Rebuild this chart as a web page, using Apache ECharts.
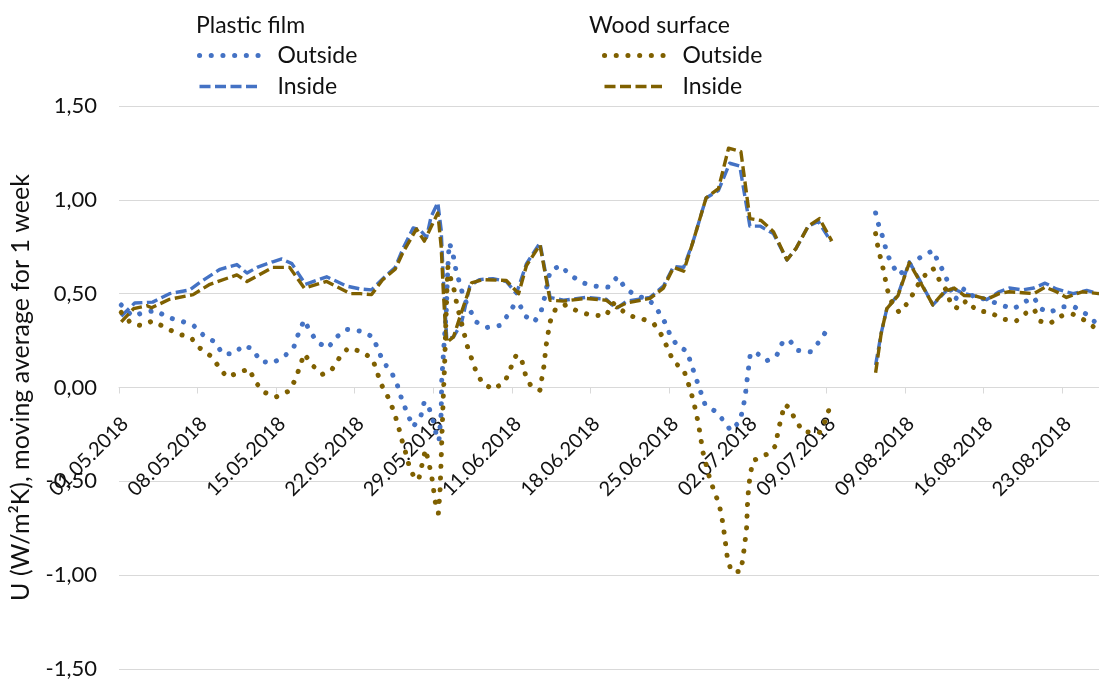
<!DOCTYPE html>
<html>
<head>
<meta charset="utf-8">
<script src="https://cdn.jsdelivr.net/npm/echarts@6/dist/echarts.min.js"></script>
<style>
  html, body { margin: 0; padding: 0; background: #ffffff; }
  #chart { width: 1099px; height: 682px; }
</style>
</head>
<body>
<div id="chart"></div>
<script>
// Measurement-day index (days with data, counted from 01.05.2018) and U value.
// A '-' value marks the period without measurements.
const tickLabels = ['01.05.2018', '08.05.2018', '15.05.2018', '22.05.2018', '29.05.2018',
  '11.06.2018', '18.06.2018', '25.06.2018', '02.07.2018', '09.07.2018',
  '09.08.2018', '16.08.2018', '23.08.2018'];
const daysPerLabel = 7;
const lastDay = 87.3;

const plasticOutside = [
  [0.2,0.44],[1.2,0.38],[2.2,0.40],[3.3,0.41],[4.3,0.374],[5.5,0.355],[6.65,0.33],[7.5,0.28],
  [8.6,0.24],[9.2,0.18],[10.2,0.18],[11.1,0.225],[11.9,0.205],[12.6,0.14],[13.7,0.13],[14.8,0.17],
  [15.6,0.22],[16.0,0.29],[16.5,0.36],[17.0,0.30],[17.7,0.24],[18.6,0.21],[19.4,0.27],[20.3,0.31],
  [21.6,0.30],[22.6,0.27],[23.1,0.20],[23.5,0.14],[24.3,0.078],[24.8,0.012],[25.2,-0.065],[25.7,-0.14],
  [26.2,-0.21],[26.9,-0.15],[27.2,-0.075],[27.6,-0.105],[28.0,-0.18],[28.3,-0.26],[28.5,-0.285],
  [28.7,-0.135],[28.75,0.04],[28.9,0.18],[29.0,0.27],[29.15,0.40],[29.25,0.575],[29.35,0.71],[29.45,0.77],
  [29.8,0.695],[30.0,0.63],[30.7,0.48],[31.8,0.35],[32.8,0.32],[33.9,0.33],[34.7,0.39],[35.3,0.45],
  [35.7,0.44],[36.2,0.38],[37.0,0.35],[37.6,0.405],[37.9,0.477],[38.4,0.62],[39.3,0.65],[40.2,0.60],
  [41.2,0.56],[42.4,0.54],[43.6,0.535],[44.4,0.59],[45.1,0.53],[46.0,0.49],[47.2,0.47],[48.0,0.41],
  [48.6,0.35],[49.1,0.28],[49.7,0.225],[50.6,0.193],[51.0,0.12],[51.4,0.05],[51.8,-0.02],[52.2,-0.09],
  [53.2,-0.13],[53.9,-0.18],[54.5,-0.23],[55.3,-0.18],[55.6,-0.108],[55.8,-0.037],[55.95,0.04],
  [56.1,0.113],[56.25,0.184],[56.8,0.184],[57.7,0.142],[58.6,0.172],[59.1,0.24],[59.7,0.255],
  [60.4,0.198],[61.6,0.19],[62.4,0.246],[63.1,0.31],
  [65.3,'-'],
  [67.4,0.93],[67.7,0.86],[68.1,0.79],[68.4,0.716],[68.9,0.65],[69.5,0.60],[70.4,0.65],[71.3,0.69],
  [72.5,0.73],[73.0,0.667],[73.6,0.60],[74.0,0.53],[74.5,0.47],[75.3,0.527],[76.2,0.48],[77.3,0.47],
  [78.5,0.44],[79.7,0.42],[80.8,0.46],[81.5,0.48],[82.1,0.42],[82.9,0.40],[84.0,0.43],[85.1,0.43],
  [86.2,0.39],[87.1,0.34]
];

const plasticInside = [
  [0.2,0.38],[1.4,0.45],[3.0,0.455],[4.5,0.50],[6.3,0.52],[7.2,0.56],[9.0,0.63],[10.5,0.655],
  [11.4,0.61],[12.3,0.64],[13.7,0.67],[14.5,0.685],[15.4,0.66],[16.6,0.55],[18.5,0.59],[20.3,0.54],
  [21.5,0.525],[22.5,0.52],[23.5,0.58],[24.6,0.64],[25.3,0.74],[26.2,0.85],[26.8,0.84],[27.4,0.80],
  [27.8,0.91],[28.4,0.985],[28.7,0.84],[28.9,0.575],[29.1,0.36],[29.2,0.255],[29.8,0.27],[30.5,0.34],
  [31.25,0.54],[32.1,0.575],[33.3,0.58],[34.5,0.565],[35.4,0.50],[36.3,0.66],[37.5,0.77],[38.4,0.48],
  [39.6,0.465],[41.6,0.48],[43.4,0.47],[44.3,0.42],[45.2,0.46],[47.3,0.48],[48.5,0.54],[49.4,0.645],
  [50.3,0.64],[51.1,0.77],[52.3,1.01],[53.4,1.05],[54.4,1.195],[55.3,1.18],[56.2,0.86],[57.1,0.86],
  [58.3,0.82],[59.5,0.68],[60.3,0.74],[61.4,0.86],[62.3,0.885],[63.4,0.78],
  [65.3,'-'],
  [67.4,0.12],[67.9,0.29],[68.4,0.42],[69.4,0.495],[70.4,0.67],[71.3,0.575],[72.5,0.44],[74.0,0.535],
  [75.3,0.50],[76.4,0.486],[77.3,0.468],[78.4,0.51],[79.3,0.53],[80.5,0.52],[81.5,0.53],[82.5,0.556],
  [83.5,0.525],[85.0,0.50],[86.2,0.517],[87.3,0.50]
];

const woodOutside = [
  [0.2,0.40],[1.1,0.34],[2.0,0.33],[3.0,0.355],[4.1,0.32],[5.2,0.287],[6.4,0.266],[7.2,0.21],
  [8.2,0.167],[8.9,0.11],[9.6,0.055],[10.7,0.08],[11.6,0.10],[12.1,0.034],[12.85,-0.023],[14.0,-0.05],
  [15.1,-0.02],[15.7,0.04],[16.1,0.11],[16.5,0.18],[17.2,0.12],[18.1,0.07],[18.9,0.09],[19.6,0.155],
  [20.4,0.21],[21.7,0.19],[22.6,0.15],[23.0,0.08],[23.4,0.012],[24.0,-0.055],[24.5,-0.13],[24.9,-0.21],
  [25.2,-0.28],[25.6,-0.36],[25.9,-0.43],[26.4,-0.49],[26.7,-0.49],[27.0,-0.41],[27.3,-0.33],
  [27.6,-0.40],[27.9,-0.49],[28.2,-0.62],[28.45,-0.67],[28.6,-0.55],[28.7,-0.38],[28.8,-0.20],
  [28.9,-0.03],[29.0,0.11],[29.1,0.31],[29.2,0.50],[29.3,0.64],[29.5,0.59],[29.9,0.51],[30.1,0.44],
  [30.7,0.30],[31.0,0.225],[31.8,0.087],[32.4,0.02],[33.4,-0.01],[34.4,0.034],[34.9,0.105],[35.4,0.175],
  [35.9,0.14],[36.2,0.07],[36.7,0.007],[37.5,-0.014],[37.7,0.06],[37.9,0.13],[38.0,0.205],[38.2,0.28],
  [38.4,0.35],[38.9,0.42],[39.8,0.44],[40.9,0.405],[42.1,0.385],[43.4,0.383],[44.0,0.45],[45.4,0.383],
  [46.6,0.367],[47.7,0.335],[48.4,0.273],[48.9,0.205],[49.4,0.137],[50.3,0.094],[50.7,0.025],
  [51.05,-0.046],[51.35,-0.117],[51.6,-0.19],[51.8,-0.26],[52.0,-0.34],[52.3,-0.41],[52.6,-0.48],
  [53.0,-0.55],[53.45,-0.62],[53.7,-0.69],[53.9,-0.77],[54.05,-0.84],[54.2,-0.91],[54.55,-0.98],
  [55.4,-0.98],[55.6,-0.90],[55.75,-0.83],[55.9,-0.755],[55.95,-0.68],[56.0,-0.605],[56.1,-0.53],
  [56.25,-0.457],[56.5,-0.39],[57.7,-0.356],[58.5,-0.31],[58.7,-0.236],[59.0,-0.16],[59.3,-0.09],
  [59.75,-0.11],[60.3,-0.18],[61.0,-0.236],[62.4,-0.24],[62.9,-0.18],[63.3,-0.108],
  [65.3,'-'],
  [67.4,0.82],[67.6,0.75],[67.9,0.675],[68.2,0.60],[68.4,0.53],[68.8,0.46],[69.5,0.40],[70.4,0.46],
  [70.9,0.52],[71.6,0.587],[72.5,0.636],[73.1,0.57],[73.8,0.51],[74.1,0.44],[74.8,0.42],[75.5,0.464],
  [76.4,0.41],[77.6,0.40],[78.7,0.365],[79.9,0.353],[80.8,0.397],[81.5,0.418],[82.1,0.353],[82.9,0.34],
  [84.0,0.383],[85.0,0.39],[86.1,0.356],[87.1,0.31]
];

const woodInside = [
  [0.2,0.35],[1.3,0.42],[2.5,0.436],[2.9,0.425],[4.5,0.47],[6.6,0.495],[8.1,0.55],[10.5,0.60],
  [11.4,0.565],[13.7,0.64],[15.2,0.64],[16.5,0.53],[18.5,0.565],[20.6,0.50],[21.5,0.50],[22.5,0.495],
  [23.5,0.575],[24.6,0.63],[25.3,0.72],[26.5,0.845],[27.2,0.78],[28.4,0.93],[28.7,0.75],[28.9,0.50],
  [29.1,0.30],[29.2,0.24],[29.8,0.27],[30.5,0.40],[31.4,0.557],[32.4,0.575],[34.5,0.57],[35.6,0.50],
  [36.3,0.65],[37.5,0.76],[38.4,0.465],[39.6,0.46],[41.6,0.475],[43.4,0.465],[44.3,0.425],[45.2,0.45],
  [47.3,0.475],[48.5,0.53],[49.4,0.64],[50.3,0.62],[51.1,0.77],[52.3,1.01],[53.4,1.06],[54.3,1.275],
  [55.4,1.257],[56.2,0.90],[57.2,0.89],[58.3,0.83],[59.5,0.68],[60.3,0.74],[61.4,0.86],[62.4,0.90],
  [63.5,0.78],
  [65.3,'-'],
  [67.4,0.078],[67.9,0.29],[68.4,0.42],[69.4,0.49],[70.4,0.665],[71.3,0.57],[72.5,0.44],[73.5,0.51],
  [74.4,0.53],[75.3,0.49],[76.4,0.486],[77.3,0.47],[78.4,0.50],[79.3,0.51],[80.5,0.505],[81.5,0.50],
  [82.5,0.535],[83.5,0.51],[84.4,0.48],[85.8,0.51],[87.3,0.50]
];

const BLUE = '#4472C4';
const BROWN = '#7F6000';
const FONT = 'Lato, "Noto Sans", sans-serif';
const TEXT = '#111111';
const GRID_LINE = '#d9d9d9';

const yMin = -1.5;
const yMax = 1.5;
const tickValues = tickLabels.map((_, i) => i * daysPerLabel);

const dotted = color => ({ color: color, width: 5, type: [0.1, 11.6], cap: 'round', join: 'round', opacity: 1 });
const dashed = color => ({ color: color, width: 3.4, type: [11, 4.5], cap: 'butt', join: 'round', opacity: 1 });

const makeSeries = (name, data, color, style) => ({
  name: name,
  type: 'line',
  data: data,
  symbol: 'none',
  showSymbol: false,
  connectNulls: false,
  color: color,
  lineStyle: style(color),
  emphasis: { disabled: true },
  silent: true
});

const legendItem = (name, color, style) => ({ name: name, lineStyle: style(color), itemStyle: { opacity: 0 } });

const legendBase = {
  orient: 'vertical',
  top: 44,
  padding: 0,
  itemWidth: 61,
  itemHeight: 14,
  itemGap: 8,
  selectedMode: false,
  itemStyle: { opacity: 0 },
  textStyle: { fontFamily: FONT, fontSize: 23, color: TEXT, lineHeight: 22, padding: [0, 0, 0, 12] },
  formatter: name => name.split('|')[1]
};

// Plot area; the second grid ends on the zero line and carries the date labels there
// (nudged a few pixels right so each rotated label ends just past its tick).
const plotLeft = 119, plotRight = 0, plotTop = 106, plotBottom = 13;
const plotHeight = 682 - plotTop - plotBottom;
const zeroFromBottom = plotBottom + plotHeight * (0 - yMin) / (yMax - yMin);
const labelNudge = 6;

const chart = echarts.init(document.getElementById('chart'), null, { renderer: 'canvas' });
chart.setOption({
  animation: false,
  backgroundColor: '#ffffff',
  textStyle: { fontFamily: FONT },
  grid: [
    { left: plotLeft, right: plotRight, top: plotTop, bottom: plotBottom, containLabel: false, outerBoundsMode: 'none' },
    { left: plotLeft + labelNudge, right: plotRight - labelNudge, top: plotTop, bottom: zeroFromBottom,
      containLabel: false, outerBoundsMode: 'none' }
  ],
  legend: [
    Object.assign({}, legendBase, { left: 197, data: [
      legendItem('Plastic film|Outside', BLUE, dotted),
      legendItem('Plastic film|Inside', BLUE, dashed)
    ] }),
    Object.assign({}, legendBase, { left: 602, data: [
      legendItem('Wood surface|Outside', BROWN, dotted),
      legendItem('Wood surface|Inside', BROWN, dashed)
    ] })
  ],
  graphic: [
    { type: 'text', left: 196, top: 14, style: { text: 'Plastic film', font: '23px ' + FONT, fill: TEXT } },
    { type: 'text', left: 589, top: 14, style: { text: 'Wood surface', font: '23px ' + FONT, fill: TEXT } }
  ],
  xAxis: [
    {
      gridIndex: 0,
      type: 'value',
      min: 0,
      max: lastDay,
      interval: daysPerLabel,
      axisLine: { show: true, onZero: true, onZeroAxisIndex: 0, lineStyle: { color: GRID_LINE, width: 1 } },
      axisTick: { show: true, length: 6, customValues: tickValues, lineStyle: { color: GRID_LINE } },
      axisLabel: { show: false },
      splitLine: { show: false }
    },
    {
      gridIndex: 1,
      type: 'value',
      min: 0,
      max: lastDay,
      interval: daysPerLabel,
      axisLine: { show: false, onZero: false },
      axisTick: { show: false },
      axisLabel: {
        rotate: 45,
        margin: 33,
        fontSize: 20,
        color: TEXT,
        fontFamily: FONT,
        customValues: tickValues,
        formatter: v => tickLabels[Math.round(v / daysPerLabel)] || ''
      },
      splitLine: { show: false }
    }
  ],
  yAxis: [
    {
      gridIndex: 0,
      type: 'value',
      min: yMin,
      max: yMax,
      interval: 0.5,
      name: 'U (W/m²K), moving average for 1 week',
      nameLocation: 'middle',
      nameGap: 86,
      nameTextStyle: { fontSize: 25, color: TEXT, fontFamily: FONT },
      axisLine: { show: false, onZero: false },
      axisTick: { show: false },
      axisLabel: {
        margin: 22,
        fontSize: 22,
        color: TEXT,
        fontFamily: FONT,
        formatter: v => v.toFixed(2).replace('.', ',')
      },
      splitLine: { lineStyle: { color: GRID_LINE, width: 1 } }
    },
    {
      gridIndex: 1,
      type: 'value',
      min: 0,
      max: 1,
      show: false
    }
  ],
  series: [
    makeSeries('Plastic film|Outside', plasticOutside, BLUE, dotted),
    makeSeries('Plastic film|Inside', plasticInside, BLUE, dashed),
    makeSeries('Wood surface|Outside', woodOutside, BROWN, dotted),
    makeSeries('Wood surface|Inside', woodInside, BROWN, dashed)
  ]
});
</script>
</body>
</html>
